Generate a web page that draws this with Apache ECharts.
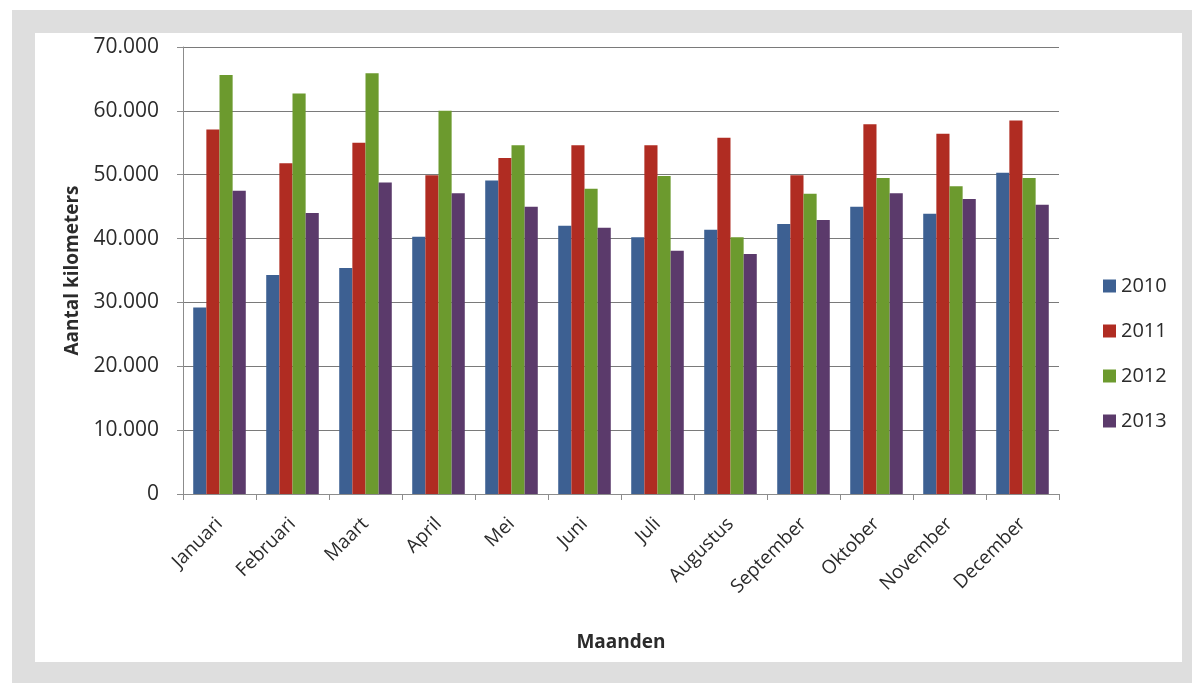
<!DOCTYPE html>
<html>
<head>
<meta charset="utf-8">
<script src="https://cdn.jsdelivr.net/npm/echarts@6/dist/echarts.min.js"></script>
<style>
  html, body { margin: 0; padding: 0; background: #ffffff; }
  #frame {
    position: absolute; left: 12px; top: 10px; width: 1180px; height: 673px;
    background: #dedede;
  }
  #panel {
    position: absolute; left: 35px; top: 33px; width: 1147px; height: 629px;
    background: #ffffff;
  }
  #chart { position: absolute; left: 0; top: 0; width: 1192px; height: 683px; }
</style>
</head>
<body>
<div id="frame"></div>
<div id="panel"></div>
<div id="chart"></div>
<script>
// Monthly kilometres per year
const months = ['Januari', 'Februari', 'Maart', 'April', 'Mei', 'Juni', 'Juli',
                'Augustus', 'September', 'Oktober', 'November', 'December'];
const km2010 = [29200, 34300, 35400, 40300, 49100, 42000, 40200, 41400, 42300, 45000, 43900, 50300];
const km2011 = [57100, 51800, 55000, 49900, 52600, 54600, 54600, 55800, 49900, 57900, 56400, 58500];
const km2012 = [65600, 62700, 65900, 60000, 54600, 47800, 49800, 40200, 47000, 49500, 48200, 49500];
const km2013 = [47500, 44000, 48800, 47100, 45000, 41700, 38100, 37600, 42900, 47100, 46200, 45300];
const yearNames = ['2010', '2011', '2012', '2013'];
const yearColors = ['#3d6092', '#b02c22', '#6c9a2e', '#5b3a6b'];

const textFont = '"Open Sans", "DejaVu Sans", sans-serif';
const chart = echarts.init(document.getElementById('chart'), null, { renderer: 'canvas' });

const seriesData = [km2010, km2011, km2012, km2013];

chart.setOption({
  backgroundColor: 'transparent',
  animation: false,
  grid: { left: 183, right: 133, top: 47, bottom: 189, containLabel: false },
  legend: {
    orient: 'vertical',
    left: 1098,
    top: 271,
    itemWidth: 13,
    itemHeight: 13,
    itemGap: 25,
    itemTextGap: 10,
    icon: 'rect',
    data: yearNames,
    textStyle: { fontFamily: textFont, fontSize: 20, color: '#2b2b2b', lineHeight: 20 }
  },
  xAxis: {
    type: 'category',
    data: months,
    boundaryGap: true,
    name: 'Maanden',
    nameLocation: 'middle',
    nameGap: 139,
    nameTextStyle: { fontFamily: textFont, fontSize: 19, fontWeight: 'bold', color: '#2b2b2b' },
    axisLine: { show: true, lineStyle: { color: '#8c8c8c', width: 1 } },
    axisTick: { show: true, inside: false, length: 6, alignWithLabel: false, lineStyle: { color: '#8c8c8c' } },
    axisLabel: {
      rotate: 45, interval: 0, margin: 27,
      fontFamily: textFont, fontSize: 19, color: '#2b2b2b'
    },
    splitLine: { show: false }
  },
  yAxis: {
    type: 'value',
    min: 0, max: 70000, interval: 10000,
    name: 'Aantal kilometers',
    nameLocation: 'middle',
    nameRotate: 90,
    nameGap: 100,
    nameTextStyle: { fontFamily: textFont, fontSize: 19, fontWeight: 'bold', color: '#2b2b2b' },
    axisLine: { show: true, lineStyle: { color: '#8c8c8c', width: 1 } },
    axisTick: { show: true, inside: false, length: 6, lineStyle: { color: '#8c8c8c' } },
    axisLabel: {
      margin: 24,
      fontFamily: textFont, fontSize: 21, color: '#2b2b2b',
      formatter: function (v) {
        return v === 0 ? '0' : (v / 1000).toFixed(0) + '.000';
      }
    },
    splitLine: { show: true, lineStyle: { color: '#7a7a7a', width: 1 } }
  },
  series: yearNames.map(function (name, i) {
    return {
      name: name,
      type: 'bar',
      data: seriesData[i],
      barGap: '0%',
      barCategoryGap: '28%',
      itemStyle: { color: yearColors[i] }
    };
  })
});
</script>
</body>
</html>
